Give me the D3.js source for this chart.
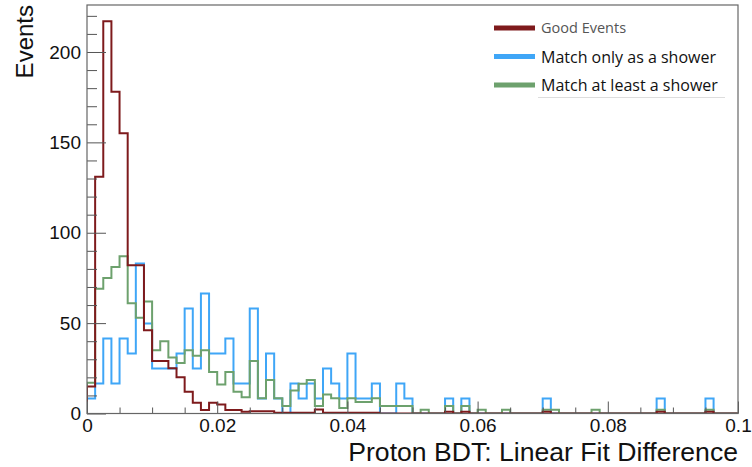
<!DOCTYPE html>
<html>
<head>
<meta charset="utf-8">
<script src="https://cdn.jsdelivr.net/npm/d3@7"></script>
<style>
  body { margin: 0; background: #fff; }
  svg { display: block; }
</style>
</head>
<body>
<div id="chart"></div>
<script>
// 80 bins between 0 and 0.1
const binCount = 80;
const xMin = 0, xMax = 0.1;

const goodEvents = [
  15, 131, 217, 178, 155, 82, 82, 46, 29, 29,
  25, 20, 12, 6, 2, 6, 5, 2, 2, 1,
  1.3, 1.3, 1.3, 0.4, 0.4, 0.4, 0.4, 0.4, 2.2, 0.4,
  0.4, 0.4, 0.4, 0.4, 0.4, 0.4, 0, 0, 0, 0,
  0, 0, 0, 0, 1, 0, 1, 0, 0, 0,
  0, 0, 0, 0, 0, 0, 1, 0, 0, 0,
  0, 0, 0, 0, 0, 0, 0, 0, 0, 0,
  1, 0, 0, 0, 0, 0, 1, 0, 0, 0
];
const showerOnly = [
  8.3, 16.6, 41.5, 16.6, 41.5, 33.2, 83, 49.8, 24.9, 24.9,
  24.9, 33.2, 58.1, 24.9, 66.4, 33.2, 33.2, 41.5, 16.6, 16.6,
  58.1, 8.3, 33.2, 8.3, 0, 16.6, 8.3, 16.6, 8.3, 24.9,
  16.6, 8.3, 33.2, 8.3, 8.3, 16.6, 0, 0, 16.6, 8.3,
  0, 0, 0, 0, 8.3, 0, 8.3, 0, 0, 0,
  0, 0, 0, 0, 0, 0, 8.3, 0, 0, 0,
  0, 0, 0, 0, 0, 0, 0, 0, 0, 0,
  8.3, 0, 0, 0, 0, 0, 8.3, 0, 0, 0
];
const atLeastShower = [
  17, 69, 75, 81, 87, 61, 53, 62, 35, 40,
  31, 28, 35, 32, 35, 23, 16, 23, 12, 9,
  29, 8.5, 18.5, 8.5, 4.2, 12.7, 16.5, 18.5, 4.2, 10.5,
  8.5, 3, 8.5, 6.3, 6.3, 8.5, 4.2, 4.2, 4.2, 4.2,
  0, 2.1, 0, 0, 4.2, 0, 4.2, 0, 2.1, 0,
  0, 2.1, 0, 0, 0, 0, 2.1, 2.1, 0, 0,
  0, 0, 2.1, 0, 0, 0, 0, 0, 0, 0,
  2.1, 0, 0, 0, 0, 0, 2.1, 0, 0, 0
];

const xMajorTicks = [0, 0.02, 0.04, 0.06, 0.08, 0.1];
const xTickLabels = ["0", "0.02", "0.04", "0.06", "0.08", "0.1"];
const yMajorTicks = [0, 50, 100, 150, 200];
const legendLabels = ["Good Events", "Match only as a shower", "Match at least a shower"];
const colors = ["#7e1a1c", "#3fa6f7", "#6da16d"];

const width = 752, height = 467;
const plot = {left: 87, right: 738, top: 5, bottom: 413.5};

const svg = d3.select('#chart')
  .append('svg')
  .attr('width', width)
  .attr('height', height)
  .style('font-family', '"Liberation Sans", Arial, sans-serif');

const x = d3.scaleLinear().domain([xMin, xMax]).range([plot.left, plot.right]);
const y = d3.scaleLinear().domain([0, 226]).range([plot.bottom, plot.top]);

const binWidth = (xMax - xMin) / binCount;

svg.append('clipPath').attr('id', 'clip')
  .append('rect')
  .attr('x', plot.left).attr('y', plot.top)
  .attr('width', plot.right - plot.left)
  .attr('height', plot.bottom - plot.top);

// histogram outlines
function steps(values) {
  const pts = [[xMin, 0]];
  values.forEach((v, i) => {
    pts.push([xMin + i * binWidth, v]);
    pts.push([xMin + (i + 1) * binWidth, v]);
  });
  pts.push([xMax, 0]);
  return pts;
}
const line = d3.line().x(d => x(d[0])).y(d => y(d[1]));

const series = [
  {values: showerOnly, color: colors[1]},
  {values: atLeastShower, color: colors[2]},
  {values: goodEvents, color: colors[0]}
];

svg.append('g')
  .attr('clip-path', 'url(#clip)')
  .selectAll('path')
  .data(series)
  .join('path')
    .attr('d', d => line(steps(d.values)))
    .attr('fill', 'none')
    .attr('stroke', d => d.color)
    .attr('stroke-width', 2)
    .attr('stroke-linejoin', 'miter');

// axes (ticks inside the frame, ROOT style)
const yMinor = d3.range(0, 227, 10).filter(v => v % 50 !== 0);
const xMinor = d3.range(0, 21).map(i => i * 0.005).filter((v, i) => i % 4 !== 0);

const yAxis = svg.append('g').attr('transform', `translate(${plot.left},0)`);
yAxis.call(d3.axisLeft(y).tickValues(yMajorTicks).tickSizeInner(-19).tickSizeOuter(0).tickPadding(6).tickFormat(d3.format('d')));
yAxis.append('g').call(d3.axisLeft(y).tickValues(yMinor).tickSizeInner(-10).tickSizeOuter(0).tickFormat(''));

const xAxis = svg.append('g').attr('transform', `translate(0,${plot.bottom})`);
xAxis.call(d3.axisBottom(x).tickValues(xMajorTicks).tickSizeInner(-12).tickSizeOuter(0).tickPadding(5)
  .tickFormat((d, i) => xTickLabels[i]));
xAxis.append('g').call(d3.axisBottom(x).tickValues(xMinor).tickSizeInner(-6).tickSizeOuter(0).tickFormat(''));

svg.selectAll('.domain').remove();
svg.selectAll('.tick line').attr('stroke', '#555').attr('stroke-width', 1);
svg.selectAll('.tick text').attr('fill', '#111').style('font-size', '19px');

// frame
svg.append('rect')
  .attr('x', plot.left).attr('y', plot.top)
  .attr('width', plot.right - plot.left)
  .attr('height', plot.bottom - plot.top)
  .attr('fill', 'none')
  .attr('stroke', '#666')
  .attr('stroke-width', 1.2);

// axis titles
svg.append('text')
  .attr('x', plot.right).attr('y', 461)
  .attr('text-anchor', 'end')
  .style('font-size', '26.6px')
  .attr('fill', '#111')
  .text('Proton BDT: Linear Fit Difference');

svg.append('text')
  .attr('transform', `translate(33,${plot.top}) rotate(-90)`)
  .attr('text-anchor', 'end')
  .style('font-size', '24px')
  .attr('fill', '#111')
  .text('Events');

// legend
const legend = svg.append('g').style('font-family', '"Open Sans", sans-serif');
const legendRows = legendLabels.map((label, i) => ({label, color: colors[i], i}));
const ly = d3.scalePoint().domain(legendRows.map(d => d.i)).range([28, 85]);

legend.selectAll('line')
  .data(legendRows)
  .join('line')
    .attr('x1', 494).attr('x2', 535)
    .attr('y1', d => ly(d.i)).attr('y2', d => ly(d.i))
    .attr('stroke', d => d.color)
    .attr('stroke-width', 5);

legend.selectAll('text')
  .data(legendRows)
  .join('text')
    .attr('x', 541)
    .attr('y', d => ly(d.i) + (d.i === 0 ? 5 : 6))
    .style('font-size', d => d.i === 0 ? '14.5px' : '16px')
    .attr('fill', d => d.i === 0 ? '#555' : '#111')
    .text(d => d.label);

legend.append('line')
  .attr('x1', 538).attr('x2', 725)
  .attr('y1', 97.5).attr('y2', 97.5)
  .attr('stroke', '#ddd');
</script>
</body>
</html>
